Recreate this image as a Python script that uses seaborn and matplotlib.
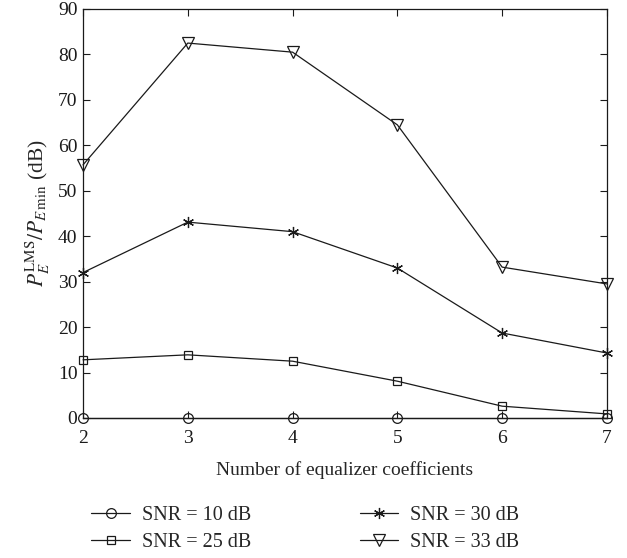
import matplotlib
matplotlib.use("Agg")
import matplotlib.pyplot as plt
import seaborn as sns
import pandas as pd

coeffs = [2, 3, 4, 5, 6, 7]
snr10 = [0, 0, 0, 0, 0, 0]
snr25 = [12.8, 13.9, 12.5, 8.1, 2.6, 0.9]
snr30 = [32.0, 43.1, 41.0, 33.0, 18.7, 14.3]
snr33 = [55.7, 82.5, 80.5, 64.5, 33.2, 29.5]
labels = ["SNR = 10 dB", "SNR = 25 dB", "SNR = 30 dB", "SNR = 33 dB"]
yticks = list(range(0, 91, 10))

sns.set_theme(style="ticks")
plt.rcParams['font.family'] = ['Liberation Serif', 'DejaVu Serif']
plt.rcParams['mathtext.fontset'] = 'stix'

fig = plt.figure(figsize=(6.27, 5.58), dpi=100)
ax = fig.add_axes([0.1324, 0.2509, 0.8356, 0.7330])

series = [snr10, snr25, snr30, snr33]
markers = ['o', 's', (6, 2, 0), 'v']
msizes = [7, 6, 8, 8]
for vals, lab, m, ms in zip(series, labels, markers, msizes):
    df = pd.DataFrame({"x": coeffs, "y": vals})
    sns.lineplot(data=df, x="x", y="y", ax=ax, color='k', lw=0.9,
                 marker=m, markersize=ms, markerfacecolor='none',
                 markeredgecolor='k', markeredgewidth=0.9, label=lab,
                 legend=False, clip_on=False)

ax.set_xlim(2, 7)
ax.set_ylim(0, 90)
ax.set_xticks(coeffs)
ax.set_yticks(yticks)
ax.tick_params(direction='in', top=True, right=True, labelsize=14, length=5,
               width=0.8, colors='k')
ax.tick_params(axis='x', pad=9)
ax.tick_params(axis='y', pad=4)
for s in ax.spines.values():
    s.set_linewidth(0.9)
    s.set_color('k')
ax.set_xlabel("Number of equalizer coefficients", fontsize=14, labelpad=10)
ax.set_ylabel(r"$P_E^{\rm LMS}/P_{E\,\min}$ (dB)", fontsize=15.5, labelpad=4)

h, l = ax.get_legend_handles_labels()
fig.legend(h, l, ncol=2,
           loc='lower center', bbox_to_anchor=(0.487, -0.022), frameon=False,
           fontsize=14.5, handlelength=1.9, columnspacing=5.4, labelspacing=0.4,
           handletextpad=0.6)

fig.savefig("out.png", dpi=100)
